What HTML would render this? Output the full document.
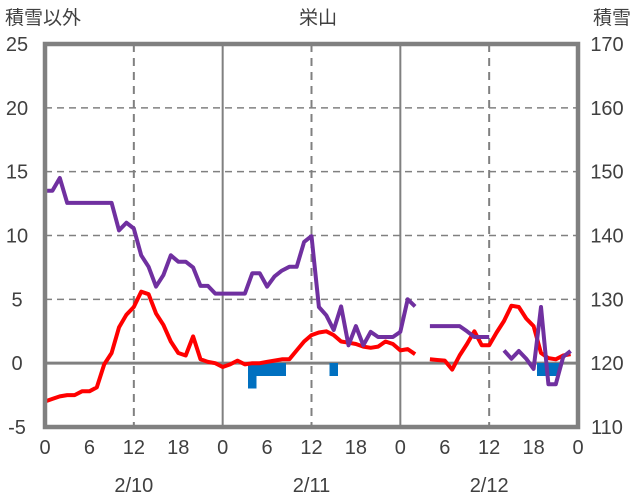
<!DOCTYPE html>
<html><head><meta charset="utf-8">
<style>
html,body{margin:0;padding:0;background:#fff;}
svg{display:block;font-family:"Liberation Sans","Noto Sans CJK JP",sans-serif;}
</style></head>
<body>
<svg id="chart" width="636" height="501" viewBox="0 0 636 501">
<text x="5" y="24" font-size="19" fill="#404040">積雪以外</text>
<text x="318" y="24" font-size="19" fill="#404040" text-anchor="middle">栄山</text>
<text x="631" y="24" font-size="19" fill="#404040" text-anchor="end">積雪</text>
<g id="grid"></g>
<g id="bars"></g>
<g id="lines"></g>
<g id="axes"></g>
</svg>
<script>
const hours = Array.from({length:72},(_,i)=>i);
const hourTickLabels = ["0","6","12","18","0","6","12","18","0","6","12","18","0"];
const dateLabels = ["2/10","2/11","2/12"];
const leftTicks = [-5,0,5,10,15,20,25];
const rightTicks = [110,120,130,140,150,160,170];
const redSeries = [-3.0,-2.8,-2.6,-2.5,-2.5,-2.2,-2.2,-1.9,-0.1,0.8,2.8,3.8,4.4,5.6,5.4,3.9,3.0,1.7,0.8,0.6,2.1,0.3,0.1,0.0,-0.3,-0.1,0.2,-0.1,0.0,0.0,0.1,0.2,0.3,0.3,1.0,1.7,2.2,2.4,2.5,2.2,1.7,1.6,1.5,1.3,1.2,1.3,1.7,1.5,1.0,1.1,0.7,null,0.3,0.25,0.2,-0.5,0.6,1.5,2.5,1.4,1.4,2.4,3.3,4.5,4.4,3.5,2.9,0.8,0.4,0.3,0.6,0.7];
const purpleSeries = [147,147,149,145.1,145.1,145.1,145.1,145.1,145.1,145.1,140.8,142.0,141.1,136.9,135.1,132.0,133.8,136.9,135.9,135.9,135.0,132.1,132.1,130.9,130.9,130.9,130.9,130.9,134.1,134.1,132.0,133.6,134.5,135.1,135.1,139.0,139.9,128.8,127.5,125.2,128.9,122.8,125.8,122.8,124.9,124.1,124.1,124.1,124.9,130.0,128.9,null,125.8,125.8,125.8,125.8,125.8,125.0,124.1,124.1,124.1,null,122.0,120.7,121.9,120.7,119.1,128.8,116.7,116.7,121.0,121.9];
const blueSeries = [0,0,0,0,0,0,0,0,0,0,0,0,0,0,0,0,0,0,0,0,0,0,0,0,0,0,0,0,-2.0,-1.0,-1.0,-1.0,-1.0,0,0,0,0,0,0,-1.0,0,0,0,0,0,0,0,0,0,0,0,0,0,0,0,0,0,0,0,0,0,0,0,0,0,0,0,-1.0,-1.0,-1.0,0,0];

const X0=45,X1=578,Y0=44,Y1=427;
const xs=h=>X0+(X1-X0)*h/72;
const yL=v=>Y1-(v+5)/30*(Y1-Y0);
const yR=v=>Y1-(v-110)/60*(Y1-Y0);
const NS="http://www.w3.org/2000/svg";
function mk(tag,attrs,parent){const e=document.createElementNS(NS,tag);for(const k in attrs)e.setAttribute(k,attrs[k]);document.getElementById(parent).appendChild(e);return e;}

leftTicks.forEach((v,i)=>{
  if(v!==0 && v!==25 && v!==-5){
    const l=mk('line',{x1:X0,x2:X1,y1:yL(v),y2:yL(v),stroke:'#808080','stroke-width':1.5,'stroke-dasharray':'7,5'},'grid');
    
    
  }
  const t=mk('text',{x:17,y:yL(v)+7,'font-size':20,fill:'#404040','text-anchor':'middle'},'axes');
  t.textContent=String(v);
  
  
});
rightTicks.forEach(v=>{
  const t=mk('text',{x:607,y:yR(v)+7,'font-size':20,fill:'#404040','text-anchor':'middle'},'axes');
  t.textContent=String(v);
  
  
});
[12,36,60].forEach(h=>{
  const l=mk('line',{x1:xs(h),x2:xs(h),y1:Y0,y2:Y1,stroke:'#808080','stroke-width':2,'stroke-dasharray':'8,6'},'grid');
  
  
});
[24,48].forEach(h=>{
  const l=mk('line',{x1:xs(h),x2:xs(h),y1:Y0,y2:Y1,stroke:'#808080','stroke-width':2},'grid');
  
  
});
const z=mk('line',{x1:X0,x2:X1,y1:yL(0),y2:yL(0),stroke:'#808080','stroke-width':3},'grid');



const bw=(X1-X0)/72;
blueSeries.forEach((v,i)=>{
  if(!v) return;
  const r=mk('rect',{x:xs(hours[i])-bw/2-0.5,y:yL(0),width:bw+1,height:yL(v)-yL(0),fill:'#0070C0','shape-rendering':'crispEdges'},'bars');
  
  
});

function path(series,yf){
  let d='',pen=false;
  series.forEach((v,i)=>{
    if(v===null){pen=false;return;}
    d+=(pen?'L':'M')+xs(hours[i]).toFixed(1)+','+yf(v).toFixed(1);
    pen=true;
  });
  return d;
}
const pr=mk('path',{d:path(redSeries,yL),fill:'none',stroke:'#FF0000','stroke-width':4,'stroke-linejoin':'round'},'lines');


const pp=mk('path',{d:path(purpleSeries,yR),fill:'none',stroke:'#7030A0','stroke-width':4,'stroke-linejoin':'round'},'lines');



const f=mk('rect',{x:X0,y:Y0,width:X1-X0,height:Y1-Y0,fill:'none',stroke:'#808080','stroke-width':4.5},'axes');



hourTickLabels.forEach((s,i)=>{
  const t=mk('text',{x:xs(i*6),y:454,'font-size':20,fill:'#404040','text-anchor':'middle'},'axes');
  t.textContent=s;
  
  
});
dateLabels.forEach((s,i)=>{
  const t=mk('text',{x:xs(12+24*i),y:492,'font-size':20,fill:'#404040','text-anchor':'middle'},'axes');
  t.textContent=s;
  
  
});
</script>
</body></html>
